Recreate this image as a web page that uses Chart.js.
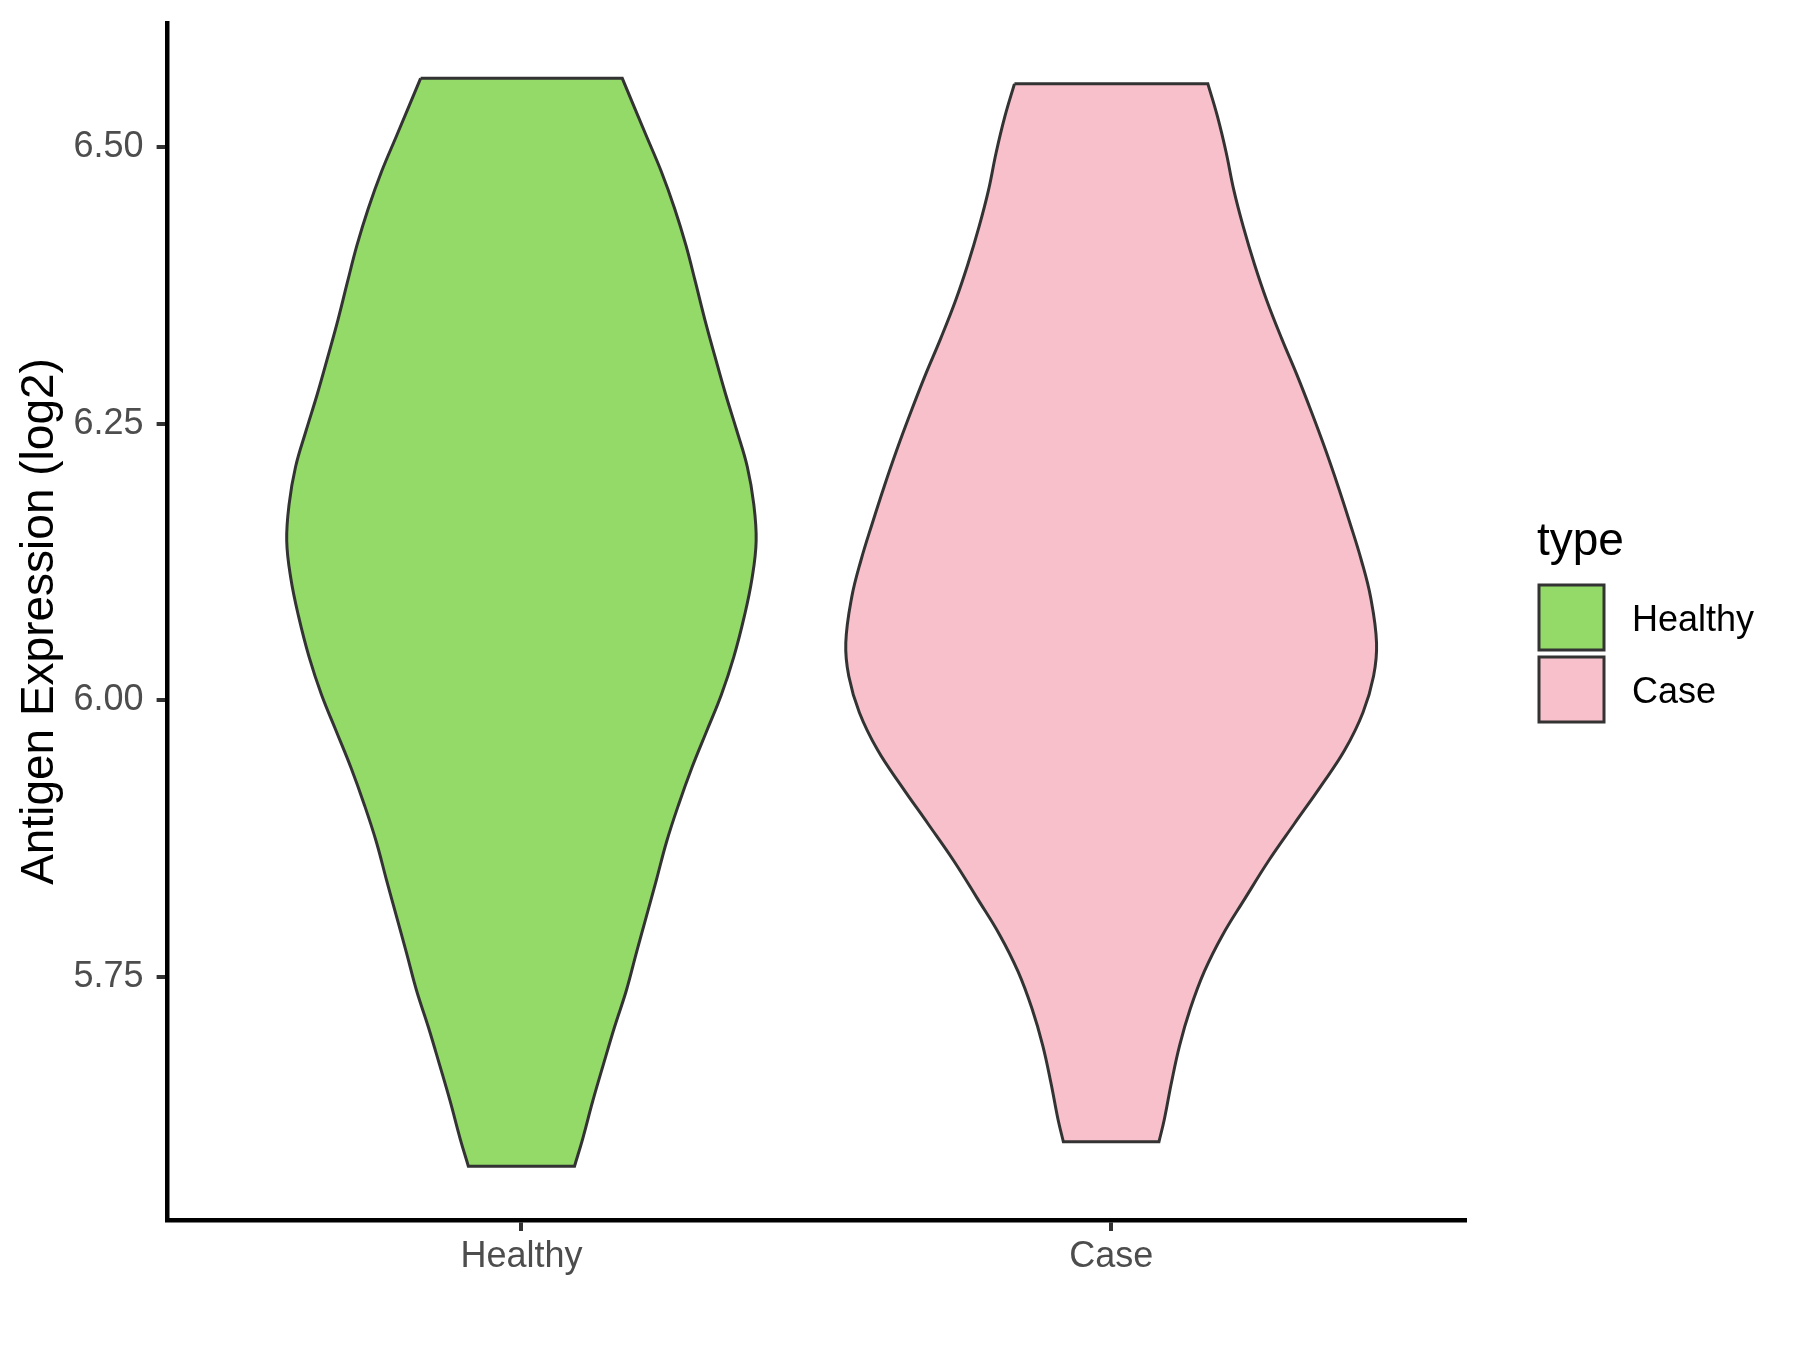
<!DOCTYPE html>
<html>
<head>
<meta charset="utf-8">
<script src="https://cdn.jsdelivr.net/npm/chart.js@4.4.0/dist/chart.umd.min.js"></script>
<style>
  body { margin: 0; background: #fff; }
  #chart { display: block; }
</style>
</head>
<body>
<canvas id="chart" width="1800" height="1350"></canvas>
<script>
const categories = ["Healthy", "Case"];
const fillColors = ["#93DA69", "#F7C0CB"];
const yTicks = [5.75, 6.00, 6.25, 6.50];

// violin outlines: value level (top to bottom) and half width in category units
const healthyLevels = [6.562, 6.511, 6.478, 6.444, 6.411, 6.378, 6.344, 6.311, 6.277, 6.244,
                       6.211, 6.177, 6.144, 6.110, 6.076, 6.039, 6.005, 5.972, 5.939, 5.905,
                       5.872, 5.838, 5.805, 5.772, 5.738, 5.705, 5.671, 5.638, 5.604, 5.579];
const healthyHalfWidth = [0.171, 0.211, 0.237, 0.260, 0.279, 0.295, 0.311, 0.328, 0.346, 0.365,
                          0.383, 0.394, 0.398, 0.391, 0.378, 0.360, 0.339, 0.314, 0.289, 0.266,
                          0.246, 0.229, 0.212, 0.195, 0.178, 0.158, 0.139, 0.121, 0.104, 0.090];

const caseLevels = [6.557, 6.528, 6.495, 6.461, 6.428, 6.394, 6.361, 6.327, 6.294, 6.260,
                    6.227, 6.193, 6.160, 6.127, 6.093, 6.052, 6.022, 5.989, 5.955, 5.922,
                    5.888, 5.855, 5.821, 5.788, 5.755, 5.721, 5.688, 5.654, 5.621, 5.601];
const caseHalfWidth = [0.164, 0.180, 0.195, 0.208, 0.224, 0.243, 0.264, 0.289, 0.315, 0.340,
                       0.363, 0.385, 0.405, 0.424, 0.440, 0.450, 0.445, 0.427, 0.396, 0.355,
                       0.310, 0.267, 0.227, 0.189, 0.158, 0.134, 0.116, 0.102, 0.090, 0.081];

const FONT = '"Liberation Sans", Arial, sans-serif';

// closed outline: down the left side, across the bottom, up the right side
// corners are doubled so the spline keeps them sharp
function outline(center, levels, half) {
    const n = levels.length;
    const left = levels.map((v, i) => ({ x: center - half[i], y: v }));
    const right = levels.map((v, i) => ({ x: center + half[i], y: v })).reverse();
    const pts = [left[0], ...left, left[n - 1], right[0], ...right, right[n - 1], left[0], left[0]];
    return pts.map(p => ({ x: p.x, y: p.y }));
}

function violin(i, levels, half) {
    return {
        label: categories[i],
        data: outline(i + 1, levels, half),
        borderColor: "#333333",
        borderWidth: 3,
        backgroundColor: fillColors[i],
        fill: "shape",
        pointRadius: 0,
        tension: 0.4
    };
}

// legend drawn at the right, like the ggplot guide
const typeLegend = {
    id: "typeLegend",
    afterDraw(chart) {
        const ctx = chart.ctx;
        ctx.save();
        ctx.textBaseline = "alphabetic";
        ctx.textAlign = "left";
        ctx.fillStyle = "#000";
        ctx.font = "46px " + FONT;
        ctx.fillText("type", 1537, 555);
        categories.forEach((name, i) => {
            const top = 585 + i * 72;
            ctx.fillStyle = fillColors[i];
            ctx.fillRect(1539, top, 65, 65);
            ctx.strokeStyle = "#333333";
            ctx.lineWidth = 3;
            ctx.strokeRect(1539, top, 65, 65);
            ctx.fillStyle = "#000";
            ctx.font = "36px " + FONT;
            ctx.fillText(name, 1632, top + 46);
        });
        ctx.restore();
    }
};

const axisGrid = { drawOnChartArea: false, drawTicks: true, tickLength: 11, color: "#333333", lineWidth: 4 };
const axisBorder = { display: true, color: "#000000", width: 4.5 };

new Chart(document.getElementById("chart"), {
    type: "line",
    data: {
        datasets: [
            violin(0, healthyLevels, healthyHalfWidth),
            violin(1, caseLevels, caseHalfWidth)
        ]
    },
    options: {
        responsive: false,
        animation: false,
        layout: { padding: { top: 23, right: 335, bottom: 0, left: 0 } },
        plugins: { legend: { display: false }, tooltip: { enabled: false } },
        scales: {
            x: {
                type: "linear",
                min: 0.4,
                max: 2.6,
                afterFit: s => { s.height = 130; s.paddingLeft = 0; s.paddingRight = 0; },
                afterBuildTicks: s => { s.ticks = [{ value: 1 }, { value: 2 }]; },
                ticks: {
                    callback: v => categories[v - 1],
                    color: "#4D4D4D",
                    font: { size: 36, family: FONT },
                    padding: 4,
                    autoSkip: false,
                    maxRotation: 0
                },
                grid: axisGrid,
                border: axisBorder
            },
            y: {
                type: "linear",
                min: 5.5304,
                max: 6.612,
                afterFit: s => { s.width = 167.6; s.paddingTop = 0; s.paddingBottom = 0; },
                afterBuildTicks: s => { s.ticks = yTicks.map(v => ({ value: v })); },
                ticks: {
                    callback: v => v.toFixed(2),
                    color: "#4D4D4D",
                    font: { size: 36, family: FONT },
                    padding: 13
                },
                grid: axisGrid,
                border: axisBorder,
                title: {
                    display: true,
                    text: "Antigen Expression (log2)",
                    color: "#000",
                    font: { size: 46, family: FONT },
                    padding: { top: 13, bottom: 0 }
                }
            }
        }
    },
    plugins: [typeLegend]
});
</script>
</body>
</html>
